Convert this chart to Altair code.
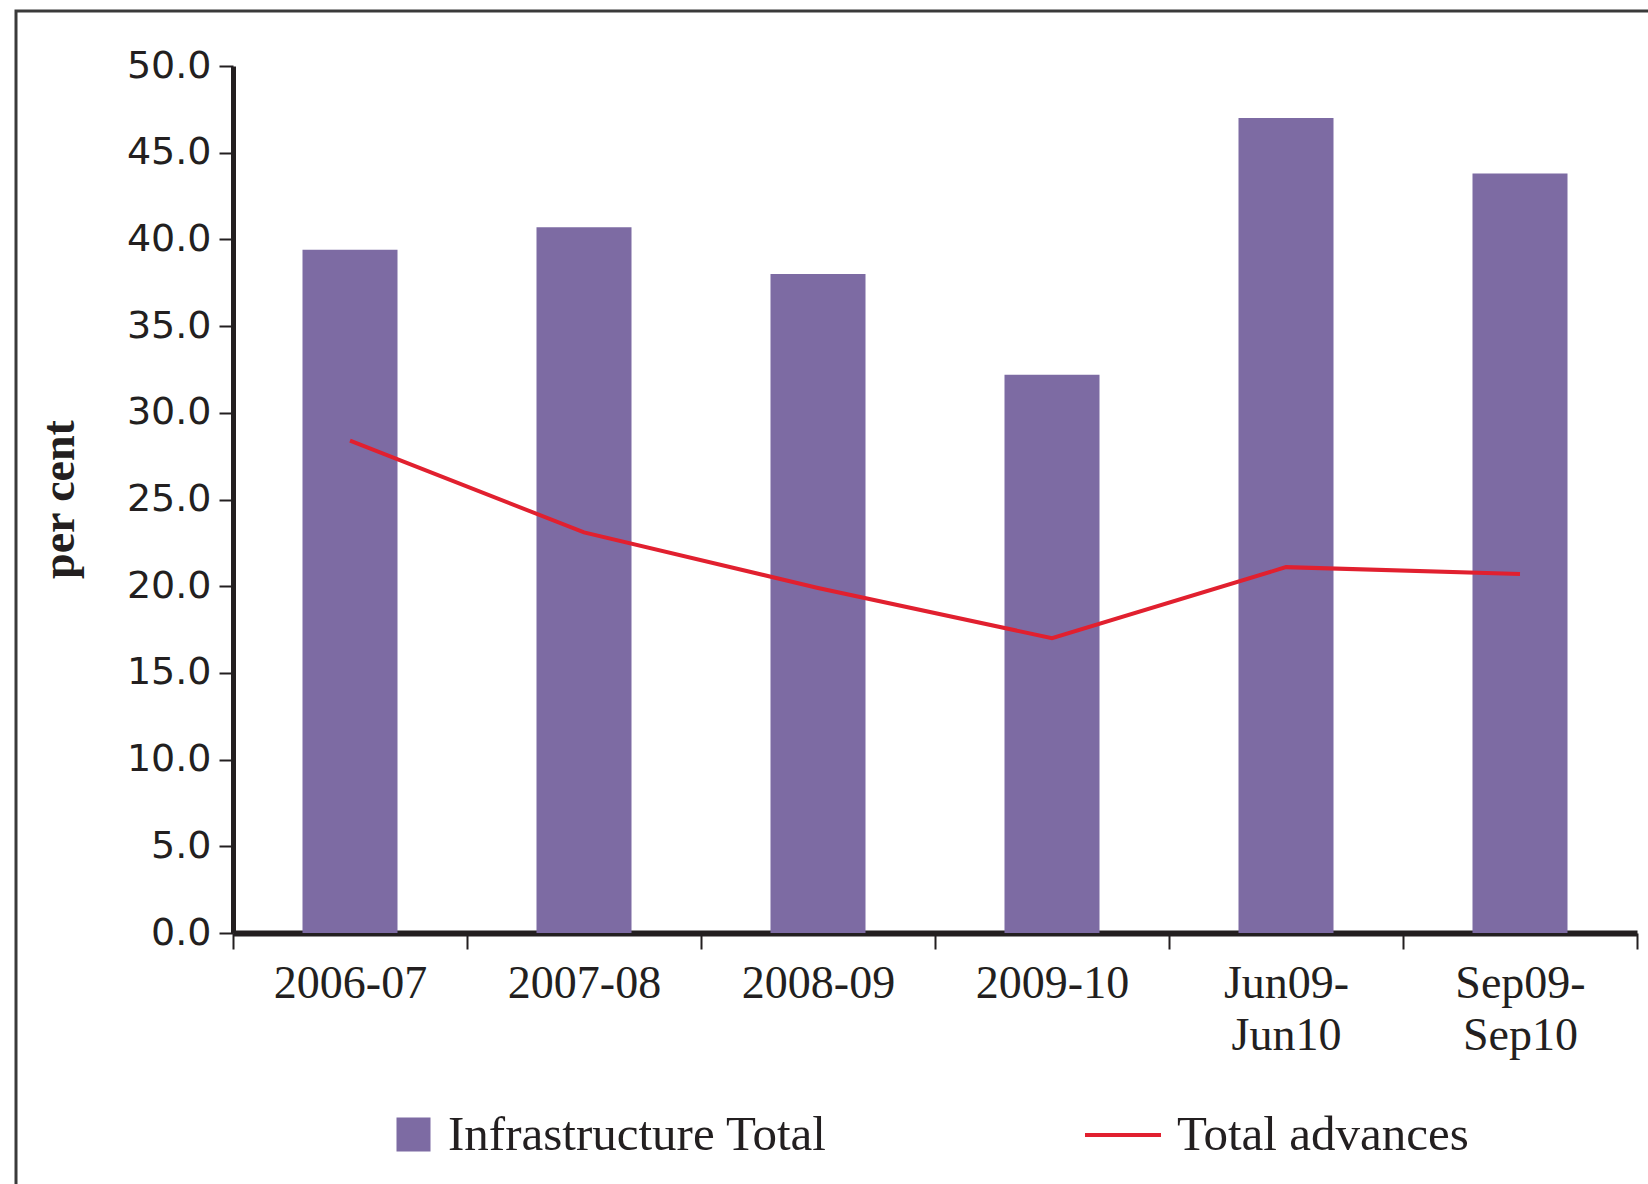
import altair as alt
import pandas as pd

periods = ["2006-07", "2007-08", "2008-09", "2009-10", "Jun09-Jun10", "Sep09-Sep10"]
infrastructure_total = [39.4, 40.7, 38.0, 32.2, 47.0, 43.8]
total_advances = [28.4, 23.1, 19.9, 17.0, 21.1, 20.7]
y_ticks = [0, 5, 10, 15, 20, 25, 30, 35, 40, 45, 50]

df = pd.DataFrame({"period": periods, "infra": infrastructure_total, "adv": total_advances})

PURPLE = "#7d6ba3"
RED = "#e1202f"
INK = "#231f20"
SERIF = "Liberation Serif"
SANS = "DejaVu Sans"

x_enc = alt.X(
    "period:N",
    sort=periods,
    scale=alt.Scale(paddingInner=0, paddingOuter=0),
    axis=alt.Axis(
        title=None,
        labelAngle=0,
        tickBand="extent",
        tickSize=16,
        tickWidth=2,
        tickColor=INK,
        domainWidth=6,
        domainColor=INK,
        labelFont=SERIF,
        labelFontSize=46,
        labelColor=INK,
        labelPadding=12,
        labelLineHeight=52,
        labelBaseline="top",
        labelExpr="indexof(datum.label, 'Jun09') == 0 || indexof(datum.label, 'Sep09') == 0 ? [slice(datum.label, 0, 6), slice(datum.label, 6)] : datum.label",
    ),
)

y_enc_axis = alt.Axis(
    title="per cent",
    titleFont=SERIF,
    titleFontWeight="bold",
    titleFontSize=46,
    titleColor=INK,
    titleAngle=270,
    titleAlign="center",
    titleBaseline="middle",
    titleX=-174,
    titleY=433,
    values=y_ticks,
    format=".1f",
    grid=False,
    tickSize=14,
    tickWidth=2,
    tickColor=INK,
    domainWidth=5,
    domainColor=INK,
    labelFont=SANS,
    labelFontSize=38,
    labelColor=INK,
    labelPadding=8,
)

base = alt.Chart(df)

bars = base.transform_calculate(series="'Infrastructure Total'").mark_bar(color=PURPLE, size=95).encode(
    x=x_enc,
    y=alt.Y("infra:Q", scale=alt.Scale(domain=[0, 50], nice=False), axis=y_enc_axis),
    color=alt.Color(
        "series:N",
        scale=alt.Scale(range=[PURPLE]),
        legend=alt.Legend(
            title=None,
            orient="none",
            legendX=156,
            legendY=1044,
            symbolType="square",
            symbolSize=1156,
            symbolStrokeWidth=0,
            labelFont=SERIF,
            labelFontSize=49,
            labelColor=INK,
            labelOffset=10,
            labelLimit=0,
            padding=0,
        ),
    ),
)

line = base.transform_calculate(series="'Total advances'").mark_line(strokeWidth=4).encode(
    x=alt.X("period:N", sort=periods),
    y=alt.Y("adv:Q"),
    stroke=alt.Stroke(
        "series:N",
        scale=alt.Scale(range=[RED]),
        legend=alt.Legend(
            title=None,
            orient="none",
            legendX=850,
            legendY=1029,
            symbolType="stroke",
            symbolSize=5776,
            symbolStrokeWidth=4,
            labelFont=SERIF,
            labelFontSize=49,
            labelColor=INK,
            labelOffset=14,
            labelLimit=0,
            padding=0,
        ),
    ),
)

frame = alt.Chart(pd.DataFrame({"f": [0]})).mark_rect(
    fill="transparent", stroke="#3a3a3a", strokeWidth=3
).encode(
    x=alt.value(16 - 233), y=alt.value(11 - 66), x2=alt.value(1700), y2=alt.value(1300)
)

chart = (
    alt.layer(frame, bars, line)
    .resolve_scale(color="independent", stroke="independent")
    .properties(
        width=1404,
        height=867,
        autosize=alt.AutoSizeParams(type="none"),
        padding={"left": 233, "top": 66, "right": 11, "bottom": 251},
        view=alt.ViewBackground(strokeWidth=0, strokeOpacity=0),
    )
    .configure_view(stroke="transparent", strokeWidth=0, strokeOpacity=0)
    .configure(background="white")
)

chart.save("out.html", embed_options={"renderer": "svg", "actions": False})
